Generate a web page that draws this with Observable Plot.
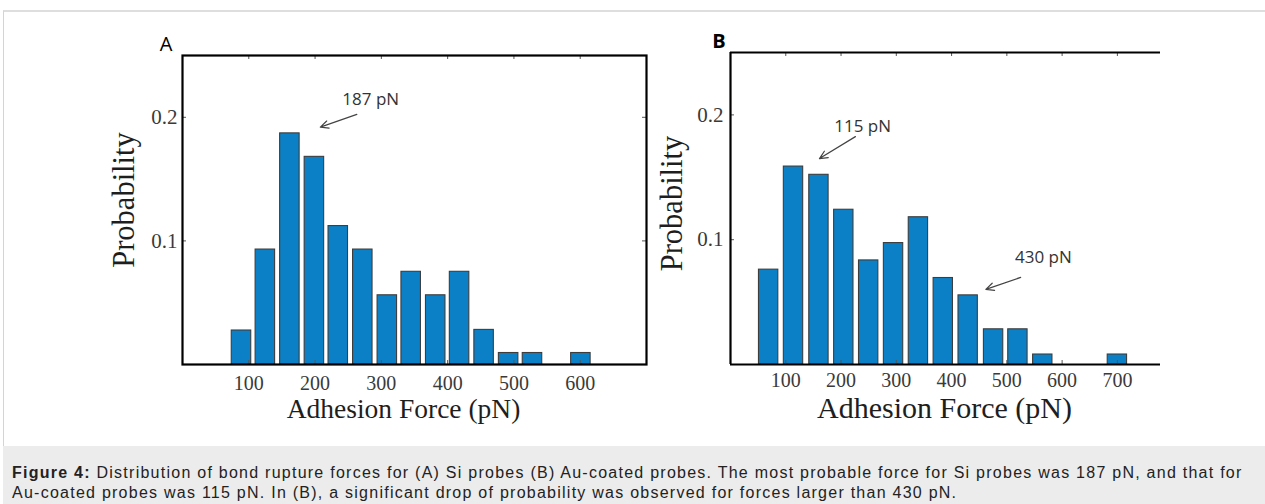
<!DOCTYPE html>
<html>
<head>
<meta charset="utf-8">
<script src="https://cdn.jsdelivr.net/npm/d3@7"></script>
<script src="https://cdn.jsdelivr.net/npm/@observablehq/plot@0.6"></script>
<style>
  html, body { margin: 0; padding: 0; background: #fff; }
  #page { position: relative; width: 1265px; height: 504px; overflow: hidden; }
  #border { position: absolute; left: 3px; top: 10px; width: 1262px; height: 436px;
            border-top: 2px solid #dedede; border-left: 1px solid #d4d4d4; box-sizing: border-box; }
  #caption { position: absolute; left: 3px; top: 446px; width: 1262px; height: 58px; background: #ececec;
             font-family: "Liberation Sans", Arial, sans-serif; font-size: 16px; letter-spacing: 1.25px;
             line-height: 20px; color: #222; white-space: nowrap;
             padding: 17px 0 0 9px; box-sizing: border-box; }
  .panel { position: absolute; top: 0; }
</style>
</head>
<body>
<div id="page">
  <div id="border"></div>
  <div id="panelA" class="panel" style="left:0"></div>
  <div id="panelB" class="panel" style="left:660px"></div>
  <div id="caption"><b>Figure 4:</b> Distribution of bond rupture forces for (A) Si probes (B) Au-coated probes. The most probable force for Si probes was 187 pN, and that for<br>Au-coated probes was 115 pN. In (B), a significant drop of probability was observed for forces larger than 430 pN.</div>
</div>
<script>
// ---- Data ----
const forceA = [89, 125, 162, 199, 235, 272, 309, 345, 382, 418, 455, 492, 528, 565, 601];
const probA  = [0.0275, 0.093, 0.187, 0.168, 0.112, 0.093, 0.056, 0.075, 0.056, 0.075, 0.028, 0.0093, 0.0093, 0, 0.0093];
const forceB = [69, 114, 160, 205, 250, 295, 340, 385, 430, 476, 520, 565, 610, 655, 700];
const probB  = [0.076, 0.1586, 0.152, 0.124, 0.0834, 0.0973, 0.118, 0.0693, 0.0554, 0.0282, 0.0282, 0.008, 0, 0, 0.008];
const xTicksA = [100, 200, 300, 400, 500, 600];
const xTicksB = [100, 200, 300, 400, 500, 600, 700];
const yTicks = [0.1, 0.2];
const yTickLabels = ["0.1", "0.2"];
const annA = [{text: "187 pN", tx: 284, ty: 0.214, x1: 263, y1: 0.2024, x2: 208, y2: 0.192}];
const annB = [
  {text: "115 pN", tx: 239, ty: 0.1906, x1: 226, y1: 0.1826, x2: 161, y2: 0.165},
  {text: "430 pN", tx: 566, ty: 0.0858, x1: 525, y1: 0.0698, x2: 462, y2: 0.0602}
];

const SERIF = "Liberation Serif, Times New Roman, serif";
const SANS = "Open Sans, Liberation Sans, sans-serif";
const BLUE = "#0b80c6";

function panel({force, prob, halfW, xDomain, xTicks, ann, letter, letterWeight, letterDx, width, height, mL, mR, mT, mB,
                xLabelSize, xLabelDx, yLabelDy, yLabelDx, xTickPad, yTickPad, fullFrame}) {
  const data = force.map((f, i) => ({f, p: prob[i]})).filter(d => d.p > 0);
  const innerW = width - mL - mR, innerH = height - mT - mB;
  const marks = [
    Plot.rect(data, {x1: d => d.f - halfW, x2: d => d.f + halfW, y1: 0, y2: "p",
      fill: BLUE, stroke: "#3d3d3d", strokeWidth: 1.1}),
    // inward ticks
    Plot.ruleX(xTicks, {insetTop: innerH - 4, stroke: "#555", strokeWidth: 1}),
    Plot.ruleX(xTicks, {insetBottom: innerH - 4, stroke: "#555", strokeWidth: 1}),
    Plot.ruleY(yTicks, {insetRight: innerW - 4, stroke: "#555", strokeWidth: 1}),
    Plot.axisX({ticks: xTicks, anchor: "bottom", tickSize: 0, tickPadding: xTickPad, label: null,
      fontSize: 20, fontFamily: SERIF, fill: "#3a3a3a"}),
    Plot.axisY({ticks: yTicks, anchor: "left", tickSize: 0, tickPadding: yTickPad, label: null,
      tickFormat: (d) => yTickLabels[yTicks.indexOf(d)], fontSize: 21, fontFamily: SERIF, fill: "#3a3a3a"}),
    Plot.text(["Adhesion Force (pN)"], {text: d => d, frameAnchor: "bottom", textAnchor: "middle", lineAnchor: "bottom",
      dx: xLabelDx, dy: 53, fontSize: xLabelSize, fontFamily: SERIF, fill: "#1e1e1e"}),
    Plot.text(["Probability"], {text: d => d, frameAnchor: "left", textAnchor: "middle", rotate: -90, lineAnchor: "middle",
      dx: yLabelDx, dy: yLabelDy, fontSize: 30.5, fontFamily: SERIF, fill: "#1e1e1e"}),
    Plot.text([letter], {text: d => d, frameAnchor: "top-left", textAnchor: "middle", lineAnchor: "bottom",
      dx: letterDx, dy: -5, fontSize: 20, fontWeight: letterWeight, fontFamily: SANS, fill: "#000"}),
    Plot.arrow(ann, {x1: "x1", y1: "y1", x2: "x2", y2: "y2", stroke: "#444", strokeWidth: 1.2,
      headLength: 11, headAngle: 50}),
    Plot.text(ann, {x: "tx", y: "ty", text: "text", fontSize: 17, fontFamily: SANS, fill: "#333"})
  ];
  if (fullFrame) {
    marks.push(Plot.ruleY(yTicks, {insetLeft: innerW - 4, stroke: "#555", strokeWidth: 1}));
    marks.push(Plot.frame({stroke: "#000", strokeWidth: 2.2}));
  } else {
    marks.push(Plot.ruleX([xDomain[0]], {stroke: "#000", strokeWidth: 2.2}));
    marks.push(Plot.ruleY([0, 0.25], {stroke: "#000", strokeWidth: 2.2}));
  }
  return Plot.plot({
    width, height, marginLeft: mL, marginRight: mR, marginTop: mT, marginBottom: mB,
    x: {domain: xDomain}, y: {domain: [0, 0.25]},
    style: {background: "transparent", overflow: "visible"},
    marks
  });
}

document.getElementById("panelA").appendChild(panel({
  force: forceA, prob: probA, halfW: 14.7, xDomain: [0, 700], xTicks: xTicksA, ann: annA,
  letter: "A", letterWeight: "normal", letterDx: -16.5, width: 660, height: 440, mL: 182, mR: 14, mT: 55, mB: 76,
  xLabelSize: 27.5, xLabelDx: -11, yLabelDy: -10, yLabelDx: -58, xTickPad: 11, yTickPad: 5, fullFrame: true
}));
document.getElementById("panelB").appendChild(panel({
  force: forceB, prob: probB, halfW: 17.5, xDomain: [0, 778], xTicks: xTicksB, ann: annB,
  letter: "B", letterWeight: "bold", letterDx: -11.5, width: 605, height: 440, mL: 70, mR: 105, mT: 52, mB: 76,
  xLabelSize: 30, xLabelDx: -1, yLabelDy: -5, yLabelDx: -58, xTickPad: 8, yTickPad: 7, fullFrame: false
}));
</script>
</body>
</html>
